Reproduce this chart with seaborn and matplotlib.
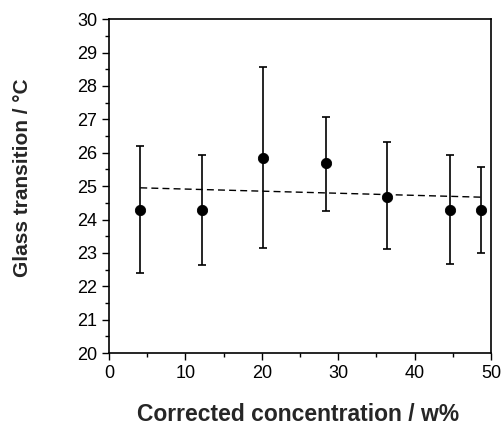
import numpy as np
import pandas as pd
import seaborn as sns
import matplotlib.pyplot as plt
from matplotlib.ticker import MultipleLocator

## values
conc = [4.1, 12.2, 20.2, 28.4, 36.4, 44.6, 48.7]
tg = [24.3, 24.3, 25.84, 25.69, 24.69, 24.3, 24.3]
tg_low = [22.40, 22.63, 23.15, 24.27, 23.13, 22.67, 22.99]
tg_high = [26.21, 25.93, 28.58, 27.07, 26.33, 25.94, 25.57]

## dashed linear fit, ends
fit_x = [4.1, 48.7]
fit_y = [24.95, 24.67]

df = pd.DataFrame({"conc": conc, "tg": tg})
yerr = np.array([np.array(tg) - np.array(tg_low), np.array(tg_high) - np.array(tg)])

sns.set_style("ticks")
plt.rcParams['font.family'] = ['Liberation Sans', 'DejaVu Sans']

fig = plt.figure(figsize=(5.02, 4.25), dpi=100)
ax = fig.add_axes([0.217, 0.169, 0.761, 0.786])

ax.errorbar(conc, tg, yerr=yerr, fmt="none", ecolor="black", elinewidth=1.2, capsize=3, capthick=1.2)
sns.lineplot(x=fit_x, y=fit_y, ax=ax, color="black", linestyle=(0, (5, 3)), linewidth=1)
sns.scatterplot(data=df, x="conc", y="tg", ax=ax, color="black", s=55, edgecolor="black", zorder=5)

ax.set_xlim(0, 50)
ax.set_ylim(20, 30)
ax.xaxis.set_major_locator(MultipleLocator(10))
ax.xaxis.set_minor_locator(MultipleLocator(5))
ax.yaxis.set_major_locator(MultipleLocator(1))
ax.yaxis.set_minor_locator(MultipleLocator(0.5))
ax.tick_params(which="major", length=5, width=1, labelsize=13, color="black", labelcolor="black")
ax.tick_params(which="minor", length=3, width=1, color="black")
for s in ax.spines.values():
    s.set_visible(True)
    s.set_color("black")
    s.set_linewidth(1.2)

ax.set_xlabel("Corrected concentration / w%", fontsize=16.5, fontweight="bold")
ax.set_ylabel("Glass transition / °C", fontsize=15, fontweight="bold")
ax.xaxis.set_label_coords(0.496, -0.148)
ax.yaxis.set_label_coords(-0.202, 0.524)

fig.savefig("out.png", dpi=100)
